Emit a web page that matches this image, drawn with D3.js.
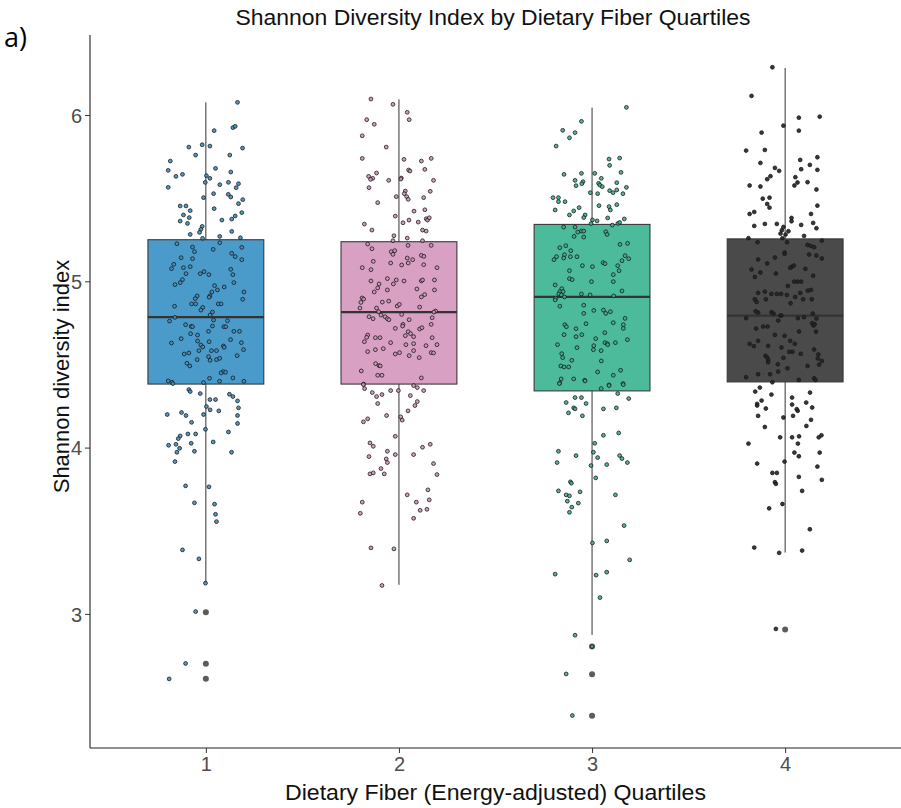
<!DOCTYPE html>
<html>
<head>
<meta charset="utf-8">
<script src="https://cdn.jsdelivr.net/npm/d3@7"></script>
<style>
  html, body { margin: 0; padding: 0; background: #fff; }
  svg { display: block; }
  text { font-family: Arial, "Liberation Sans", sans-serif; }
</style>
</head>
<body>
<svg id="chart" width="901" height="808"></svg>
<script>
// Fiber quartile categories and box colours
const categories = [1, 2, 3, 4];
const boxColors = ["#4a9bca", "#d8a0c3", "#4cbb9b", "#4a4a4a"];
const pointColors = ["#3f8fc0", "#cf93b9", "#3fae8e", "#222222"];

// Box-plot summaries per quartile
const whiskerLow = [3.185, 3.175, 2.874, 3.369];
const lowerQuartile = [4.382, 4.382, 4.341, 4.395];
const medians = [4.784, 4.815, 4.906, 4.794];
const upperQuartile = [5.250, 5.238, 5.342, 5.255];
const whiskerHigh = [6.076, 6.094, 6.044, 6.283];
const outliers = [[3.01, 2.70, 2.61], [], [2.804, 2.637, 2.387], [2.906]];

// Individual Shannon index values: [horizontal jitter (category units), value]
const quartile1 = [
  [0.164,6.076],[0.043,5.906],[0.140,5.924],[0.152,5.932],[-0.088,5.807],[-0.019,5.821],[0.021,5.813],[0.190,5.801],
  [-0.053,5.759],[0.124,5.759],[-0.184,5.723],[-0.195,5.667],[0.050,5.679],[0.129,5.657],[-0.121,5.643],[-0.155,5.631],
  [0.003,5.635],[0.021,5.619],[-0.003,5.595],[0.117,5.595],[0.169,5.587],[0.072,5.581],[0.157,5.563],[-0.195,5.565],
  [0.040,5.527],[0.116,5.523],[0.129,5.507],[-0.012,5.503],[0.191,5.491],[-0.133,5.453],[-0.103,5.453],[0.043,5.437],
  [-0.081,5.425],[0.169,5.467],[-0.116,5.399],[-0.086,5.383],[0.186,5.413],[0.152,5.393],[0.134,5.374],[0.083,5.368],
  [-0.133,5.362],[-0.095,5.348],[-0.019,5.330],[-0.026,5.312],[-0.033,5.294],[-0.081,5.282],[0.134,5.300],[-0.017,5.258],
  [0.072,5.270],[0.179,5.262],
  [-0.150,5.226],[0.072,5.232],[0.186,5.204],[-0.069,5.206],[-0.059,5.178],[0.038,5.192],[0.134,5.168],[0.152,5.148],
  [-0.128,5.142],[-0.069,5.136],[0.186,5.130],[-0.166,5.102],[-0.178,5.076],[-0.116,5.082],[-0.081,5.088],[0.129,5.072],
  [-0.103,5.046],[-0.029,5.046],[-0.009,5.058],[0.016,5.040],[0.140,5.040],[-0.121,5.010],[-0.133,4.992],[-0.160,4.980],
  [0.145,4.992],[0.197,4.936],[0.045,4.974],[0.095,4.966],[0.060,4.948],[0.031,4.936],[0.021,4.912],[0.017,4.904],
  [-0.045,4.912],[-0.055,4.896],[0.191,4.892],[-0.074,4.864],[-0.053,4.864],[0.064,4.864],[0.079,4.864],[-0.162,4.850],
  [-0.016,4.843],[-0.026,4.827],[0.034,4.815],[0.022,4.797],[0.040,4.767],[-0.160,4.783],[-0.188,4.761],[0.112,4.763],
  [-0.105,4.739],[-0.076,4.729],[-0.069,4.727],[0.093,4.727],[0.103,4.727],[0.034,4.731],[-0.079,4.685],[-0.128,4.655],
  [0.014,4.699],[0.145,4.699],[0.174,4.699],[-0.043,4.677],[-0.043,4.641],[0.128,4.649],[0.017,4.637],[-0.178,4.629],
  [0.184,4.631],[-0.026,4.617],[-0.016,4.605],[0.091,4.611],[0.095,4.603],[0.195,4.589],[-0.036,4.583],[0.029,4.583],
  [0.055,4.583],[-0.112,4.563],[-0.088,4.569],[0.162,4.553],[0.014,4.547],[-0.045,4.529],[0.022,4.525],[0.055,4.529],
  [0.072,4.537],[-0.098,4.507],[-0.083,4.491],[0.090,4.457],[0.079,4.449],[0.102,4.453],[0.019,4.417],[0.140,4.419],
  [-0.195,4.401],[-0.176,4.393],[-0.171,4.385],[-0.012,4.391],[0.071,4.399],[0.197,4.399],
  [-0.088,4.349],[-0.081,4.337],[-0.029,4.325],[0.122,4.321],[0.140,4.307],[0.164,4.281],[0.021,4.289],[0.050,4.289],
  [0.003,4.247],[0.022,4.227],[0.067,4.221],[0.169,4.239],[-0.200,4.199],[-0.126,4.211],[-0.103,4.193],[-0.012,4.199],
  [0.164,4.193],[-0.074,4.152],[0.164,4.145],[-0.002,4.110],[0.117,4.094],[-0.093,4.082],[-0.053,4.082],[-0.133,4.070],
  [-0.143,4.054],[0.038,4.034],[-0.076,4.026],[-0.193,4.014],[-0.155,4.020],[-0.136,3.996],[-0.150,3.972],[-0.059,3.978],
  [0.133,3.972],[-0.160,3.916],[-0.105,3.770],[0.016,3.764],[-0.059,3.668],[0.045,3.660],[0.050,3.599],[0.055,3.555],
  [-0.121,3.385],[-0.036,3.331],[-0.002,3.185],[-0.053,3.014],[-0.105,2.702],[-0.190,2.609]
];

const quartile2 = [
  [-0.145,6.096],[-0.031,6.064],[0.043,6.016],[0.053,5.972],[-0.167,5.972],[-0.128,5.944],[-0.190,5.875],[-0.066,5.807],
  [-0.190,5.739],[0.026,5.733],[0.116,5.723],[0.167,5.739],[0.050,5.669],[0.057,5.663],[0.134,5.673],[-0.116,5.651],
  [-0.157,5.631],[-0.136,5.619],[-0.147,5.613],[-0.053,5.607],[0.012,5.621],[0.010,5.615],[0.179,5.607],[-0.155,5.563],
  [0.033,5.543],[0.162,5.541],[0.028,5.527],[0.040,5.509],[0.048,5.493],[-0.014,5.509],[0.128,5.503],[-0.110,5.473],
  [0.134,5.430],[0.078,5.422],[-0.019,5.392],[0.141,5.376],[0.148,5.368],[0.157,5.382],[0.052,5.368],[0.021,5.352],
  [0.100,5.356],[-0.179,5.344],[-0.140,5.308],[0.122,5.308],[0.141,5.302],[-0.026,5.274],[0.043,5.260],[-0.031,5.244],
  [0.122,5.244],
  [-0.162,5.224],[0.047,5.216],[0.167,5.216],[-0.140,5.196],[-0.040,5.178],[-0.022,5.184],[-0.031,5.162],[0.116,5.156],
  [0.129,5.150],[0.043,5.140],[0.071,5.130],[-0.133,5.120],[-0.043,5.110],[0.014,5.098],[0.048,5.110],[0.128,5.100],
  [-0.190,5.082],[-0.145,5.070],[0.197,5.082],[-0.060,5.016],[-0.014,5.008],[-0.145,5.002],[0.026,5.002],[0.116,5.002],
  [0.122,5.008],[0.184,5.008],[-0.103,4.984],[-0.029,4.984],[-0.110,4.960],[-0.060,4.948],[0.184,4.948],[0.093,4.954],
  [-0.128,4.936],[0.133,4.920],[0.116,4.906],[-0.191,4.900],[-0.183,4.893],[-0.197,4.873],[-0.086,4.875],[-0.053,4.881],
  [-0.009,4.851],[0.002,4.861],[-0.202,4.839],[-0.116,4.839],[0.107,4.845],[-0.105,4.817],[0.190,4.821],[0.181,4.815],
  [-0.093,4.797],[-0.072,4.787],[-0.060,4.775],[-0.052,4.769],[0.014,4.801],[0.172,4.781],[-0.155,4.787],[-0.134,4.775],
  [0.053,4.769],[0.167,4.741],[0.021,4.741],[0.019,4.731],[-0.019,4.717],[0.107,4.713],[0.119,4.721],[0.048,4.697],
  [0.060,4.685],[-0.162,4.677],[-0.167,4.663],[-0.122,4.661],[-0.098,4.661],[0.033,4.673],[0.076,4.667],[0.172,4.661],
  [-0.179,4.637],[-0.043,4.631],[0.076,4.625],[0.036,4.619],[0.140,4.613],[0.197,4.619],[-0.162,4.577],[-0.122,4.589],
  [-0.081,4.595],[-0.019,4.563],[0.003,4.571],[0.076,4.583],[0.167,4.571],[0.179,4.569],[0.053,4.553],[0.105,4.541],
  [-0.121,4.505],[-0.103,4.493],[-0.097,4.491],[-0.195,4.461],[-0.110,4.435],[-0.088,4.435],[0.116,4.419],[-0.183,4.382],
  [-0.184,4.379],[-0.178,4.355],[0.076,4.373],[0.095,4.361],[0.128,4.343],[-0.138,4.331],[-0.088,4.319],[-0.043,4.343],
  [-0.003,4.343],[-0.116,4.307],[0.059,4.313],[0.095,4.277],[0.083,4.253],[-0.110,4.265],[0.047,4.221],[-0.064,4.193],
  [0.009,4.185],[0.017,4.165],[-0.162,4.173],[-0.184,4.155],[-0.019,4.068],[-0.150,4.028],[-0.133,4.008],[0.122,4.002],
  [0.162,4.020],[-0.060,3.978],[-0.019,3.958],[0.076,3.958],[-0.155,3.946],[-0.066,3.932],[-0.060,3.910],[0.179,3.904],
  [-0.093,3.874],[-0.150,3.842],[-0.133,3.848],[-0.076,3.842],[0.197,3.838],[0.150,3.746],[0.043,3.716],[0.157,3.686],
  [0.090,3.672],[-0.190,3.672],[0.110,3.623],[0.145,3.629],[-0.200,3.605],[0.076,3.575],[-0.145,3.397],[-0.026,3.391],
  [-0.088,3.171]
];

const quartile3 = [
  [0.178,6.046],[-0.055,5.962],[-0.152,5.908],[-0.088,5.894],[-0.117,5.863],[-0.186,5.813],[0.088,5.735],[0.143,5.741],
  [0.091,5.697],[-0.145,5.643],[-0.055,5.649],[0.014,5.649],[0.048,5.619],[0.150,5.655],[-0.088,5.607],[-0.047,5.599],
  [-0.053,5.587],[-0.083,5.575],[0.034,5.589],[0.040,5.579],[0.053,5.569],[0.128,5.593],[0.178,5.565],[0.091,5.545],
  [0.109,5.533],[0.128,5.549],[0.160,5.527],[-0.009,5.533],[0.029,5.527],[-0.202,5.503],[-0.174,5.503],[-0.174,5.479],
  [-0.140,5.479],[0.036,5.455],[0.088,5.449],[0.128,5.461],[0.095,5.429],[-0.191,5.429],[-0.067,5.443],[-0.095,5.423],
  [-0.117,5.399],[-0.036,5.399],[-0.043,5.383],[0.081,5.381],[0.167,5.375],[0.002,5.369],[0.026,5.363],[-0.005,5.347],
  [0.105,5.338],[0.134,5.348],[0.143,5.354],
  [-0.147,5.326],[-0.088,5.326],[-0.055,5.302],[-0.043,5.302],[-0.074,5.296],[0.071,5.298],[0.078,5.282],[-0.093,5.270],
  [-0.043,5.266],[0.145,5.222],[0.184,5.228],[-0.136,5.214],[-0.167,5.202],[-0.110,5.184],[-0.143,5.160],[-0.184,5.148],
  [-0.197,5.130],[-0.147,5.140],[-0.112,5.148],[-0.078,5.148],[0.171,5.154],[0.190,5.136],[0.155,5.124],[0.057,5.112],
  [0.067,5.106],[-0.050,5.094],[0.002,5.088],[0.133,5.094],[0.140,5.064],[-0.117,5.064],[0.110,5.040],[-0.117,5.016],
  [-0.103,5.010],[-0.003,4.998],[0.110,4.998],[-0.191,4.978],[-0.157,4.956],[-0.167,4.938],[-0.150,4.938],[-0.172,4.924],
  [-0.159,4.918],[-0.143,4.906],[-0.188,4.898],[-0.191,4.888],[-0.055,4.924],[-0.010,4.918],[0.155,4.942],[0.112,4.912],
  [-0.167,4.850],[-0.043,4.856],[-0.043,4.807],[0.009,4.825],[0.059,4.827],[0.071,4.807],[0.095,4.817],[0.171,4.777],
  [-0.031,4.745],[0.110,4.751],[0.162,4.739],[0.162,4.717],[-0.141,4.739],[-0.133,4.727],[-0.083,4.715],[-0.145,4.679],
  [-0.083,4.667],[-0.053,4.679],[0.066,4.691],[0.019,4.655],[0.183,4.649],[-0.179,4.619],[-0.078,4.601],[0.009,4.613],
  [0.007,4.589],[0.067,4.631],[0.079,4.625],[0.081,4.619],[0.121,4.631],[0.047,4.583],[-0.157,4.565],[-0.152,4.541],
  [-0.105,4.525],[0.048,4.521],[-0.162,4.491],[-0.145,4.485],[-0.121,4.485],[0.029,4.455],[0.148,4.465],[0.110,4.435],
  [-0.160,4.413],[-0.167,4.389],[-0.095,4.413],[-0.038,4.405],[0.160,4.385],[0.088,4.377],
  [-0.169,4.385],[-0.036,4.401],[0.047,4.355],[0.088,4.373],[0.162,4.379],[0.133,4.325],[0.190,4.295],[-0.088,4.301],
  [-0.055,4.301],[-0.134,4.271],[-0.031,4.265],[-0.095,4.239],[-0.088,4.233],[0.059,4.233],[0.126,4.239],[-0.122,4.209],
  [-0.050,4.191],[0.059,4.074],[0.138,4.088],[0.014,4.026],[-0.174,3.978],[0.007,3.972],[-0.083,3.952],[0.029,3.940],
  [0.143,3.952],[0.155,3.934],[-0.181,3.910],[-0.005,3.892],[0.076,3.898],[0.183,3.910],[0.019,3.818],[-0.112,3.794],
  [-0.107,3.786],[-0.174,3.740],[-0.134,3.716],[-0.117,3.710],[-0.062,3.734],[0.121,3.716],[-0.128,3.678],[-0.071,3.666],
  [-0.105,3.642],[-0.117,3.611],[0.166,3.531],[0.002,3.427],[0.076,3.439],[0.195,3.325],[-0.191,3.239],[0.021,3.233],
  [0.076,3.251],[0.041,3.098],[-0.088,2.872],[0.000,2.804],[-0.134,2.639],[-0.102,2.389]
];

const quartile4 = [
  [-0.066,6.287],[-0.174,6.115],[0.071,5.984],[0.179,5.990],[-0.009,5.936],[0.071,5.906],[-0.122,5.894],[-0.202,5.786],
  [-0.105,5.790],[-0.128,5.712],[0.078,5.730],[0.167,5.746],[0.128,5.700],[0.083,5.674],[0.167,5.670],[-0.053,5.682],
  [-0.031,5.664],[-0.076,5.632],[-0.093,5.614],[0.053,5.626],[0.064,5.594],[0.048,5.576],[0.116,5.596],[-0.184,5.576],
  [-0.128,5.570],[0.162,5.552],[-0.116,5.497],[-0.081,5.503],[-0.093,5.465],[-0.081,5.443],[0.167,5.455],[-0.184,5.405],
  [-0.160,5.417],[0.134,5.405],[0.033,5.381],[0.033,5.361],[-0.160,5.333],[-0.105,5.345],[-0.043,5.345],[0.083,5.339],
  [0.145,5.351],[0.162,5.319],[-0.009,5.327],[-0.017,5.307],[0.017,5.301],[-0.024,5.287],[0.002,5.281],[0.098,5.273],
  [-0.190,5.259],[-0.014,5.259],
  [-0.143,5.235],[0.010,5.235],[0.190,5.245],[0.116,5.219],[0.133,5.213],[0.150,5.205],[-0.003,5.173],[-0.003,5.165],
  [0.124,5.161],[0.162,5.155],[-0.053,5.143],[0.190,5.137],[-0.140,5.131],[-0.093,5.107],[0.034,5.087],[0.045,5.095],
  [0.026,5.081],[-0.174,5.071],[-0.128,5.053],[0.105,5.075],[-0.048,5.047],[0.145,5.034],[-0.157,5.026],[0.047,4.998],
  [0.064,4.998],[0.083,4.998],[0.014,4.972],[-0.140,4.930],[-0.105,4.938],[-0.071,4.924],[-0.043,4.924],[-0.021,4.924],
  [0.009,4.918],[0.078,4.930],[0.117,4.944],[0.134,4.948],[-0.157,4.892],[-0.148,4.876],[-0.100,4.892],[0.052,4.906],
  [0.093,4.892],[0.138,4.892],[0.028,4.868],[-0.153,4.820],[-0.140,4.812],[-0.071,4.814],[-0.060,4.806],[-0.024,4.794],
  [-0.019,4.794],[0.143,4.806],[-0.202,4.778],[-0.036,4.764],[0.066,4.778],[0.098,4.784],[0.162,4.776],[-0.114,4.728],
  [-0.091,4.728],[-0.150,4.716],[0.140,4.748],[0.147,4.734],[0.153,4.742],[0.072,4.698],[0.160,4.698],[-0.053,4.678],
  [-0.003,4.672],[0.026,4.642],[0.050,4.624],[-0.184,4.624],[-0.162,4.610],[-0.140,4.642],[-0.088,4.612],[-0.019,4.602],
  [0.021,4.576],[0.038,4.576],[0.081,4.564],[0.150,4.590],[0.172,4.560],[-0.102,4.552],[-0.093,4.542],[-0.088,4.527],
  [-0.088,4.513],[-0.009,4.540],[0.169,4.536],[0.190,4.521],[-0.038,4.501],[0.012,4.477],[0.116,4.491],[0.176,4.499],
  [-0.202,4.423],[-0.140,4.441],[-0.078,4.441],[-0.036,4.457],[0.150,4.417],[0.071,4.407],
  [0.157,4.407],[-0.066,4.393],[-0.131,4.361],[-0.155,4.337],[-0.071,4.319],[0.129,4.331],[0.036,4.301],[-0.122,4.283],
  [-0.145,4.263],[-0.145,4.253],[0.109,4.271],[0.036,4.259],[0.140,4.241],[-0.100,4.235],[0.060,4.231],[0.065,4.221],
  [-0.140,4.191],[-0.009,4.181],[0.041,4.191],[0.134,4.167],[-0.105,4.124],[0.110,4.130],[-0.026,4.062],[0.036,4.062],
  [0.072,4.068],[0.174,4.062],[0.188,4.074],[-0.190,4.024],[0.066,4.024],[0.048,3.970],[0.071,3.948],[0.179,3.970],
  [-0.145,3.904],[-0.003,3.916],[0.167,3.886],[-0.066,3.848],[-0.043,3.848],[0.071,3.824],[0.190,3.806],[-0.053,3.792],
  [-0.048,3.782],[0.088,3.740],[-0.014,3.661],[-0.083,3.635],[0.128,3.509],[-0.160,3.399],[-0.031,3.367],[0.088,3.381],
  [-0.048,2.910]
];

const pointsByGroup = [quartile1, quartile2, quartile3, quartile4];
const yTicks = [3, 4, 5, 6];

const svg = d3.select("#chart");
const plot = { left: 90, right: 901, top: 35, bottom: 748 };

// ggplot-style discrete axis: categories 1..4 with 0.6 units of padding each side
const x = d3.scaleLinear().domain([0.4, 4.6]).range([plot.left, plot.right]);
const y = d3.scaleLinear().domain([2.1937, 6.481]).range([plot.bottom, plot.top]);
const boxHalf = 0.3;

const boxes = categories.map((c, i) => ({
  cat: c, i,
  lo: whiskerLow[i], q1: lowerQuartile[i], med: medians[i], q3: upperQuartile[i], hi: whiskerHigh[i],
  out: outliers[i]
}));

const g = svg.append("g");

// whiskers
g.selectAll("line.whisker").data(boxes).join("line")
  .attr("class", "whisker")
  .attr("x1", d => x(d.cat)).attr("x2", d => x(d.cat))
  .attr("y1", d => y(d.lo)).attr("y2", d => y(d.hi))
  .attr("stroke", "#333").attr("stroke-width", 1);

// boxes
g.selectAll("rect.box").data(boxes).join("rect")
  .attr("class", "box")
  .attr("x", d => x(d.cat - boxHalf))
  .attr("width", d => x(d.cat + boxHalf) - x(d.cat - boxHalf))
  .attr("y", d => y(d.q3))
  .attr("height", d => y(d.q1) - y(d.q3))
  .attr("fill", d => boxColors[d.i])
  .attr("stroke", "#3a3a3a").attr("stroke-width", 1.1);

// medians
g.selectAll("line.median").data(boxes).join("line")
  .attr("class", "median")
  .attr("x1", d => x(d.cat - boxHalf)).attr("x2", d => x(d.cat + boxHalf))
  .attr("y1", d => y(d.med)).attr("y2", d => y(d.med))
  .attr("stroke", "#333").attr("stroke-width", 2.2);

// boxplot outliers
boxes.forEach(b => {
  g.selectAll(null).data(b.out).join("circle")
    .attr("cx", x(b.cat)).attr("cy", v => y(v)).attr("r", 3)
    .attr("fill", "#5c5c5c");
});

// jittered observations
pointsByGroup.forEach((pts, i) => {
  g.selectAll(null).data(pts).join("circle")
    .attr("cx", d => x(categories[i] + d[0]))
    .attr("cy", d => y(d[1]))
    .attr("r", 1.9)
    .attr("fill", pointColors[i])
    .attr("fill-opacity", 0.9)
    .attr("stroke", "#1a1a1a").attr("stroke-width", 0.8);
});

// axes
const yAxis = d3.axisLeft(y).tickValues(yTicks).tickSize(5).tickPadding(3).tickFormat(d3.format("d"));
const xAxis = d3.axisBottom(x).tickValues(categories).tickSize(5).tickPadding(4).tickFormat(d3.format("d"));

const ya = svg.append("g").attr("transform", `translate(${plot.left},0)`).call(yAxis);
ya.attr("font-family", null);
ya.select(".domain").attr("d", `M0,${plot.top}V${plot.bottom}`).attr("stroke", "#222").attr("stroke-width", 1.1);
ya.selectAll(".tick line").attr("stroke", "#333");
ya.selectAll(".tick text").attr("fill", "#4d4d4d").style("font-size", "20px").attr("dy", "0.36em");

const xa = svg.append("g").attr("transform", `translate(0,${plot.bottom})`).call(xAxis);
xa.attr("font-family", null);
xa.select(".domain").attr("d", `M${plot.left},0H${plot.right}`).attr("stroke", "#222").attr("stroke-width", 1.1);
xa.selectAll(".tick line").attr("stroke", "#333");
xa.selectAll(".tick text").attr("fill", "#4d4d4d").style("font-size", "20px");

// titles
svg.append("text")
  .attr("x", 493).attr("y", 25)
  .attr("text-anchor", "middle")
  .attr("textLength", 515).attr("lengthAdjust", "spacingAndGlyphs")
  .style("font-size", "22px").attr("fill", "#111")
  .text("Shannon Diversity Index by Dietary Fiber Quartiles");

svg.append("text")
  .attr("x", 495.5).attr("y", 800)
  .attr("text-anchor", "middle")
  .attr("textLength", 421).attr("lengthAdjust", "spacingAndGlyphs")
  .style("font-size", "22.5px").attr("fill", "#111")
  .text("Dietary Fiber (Energy-adjusted) Quartiles");

svg.append("text")
  .attr("transform", `translate(69,${(plot.top + plot.bottom) / 2 - 15}) rotate(-90)`)
  .attr("text-anchor", "middle")
  .style("font-size", "22px").attr("fill", "#111")
  .text("Shannon diversity index");

svg.append("text")
  .attr("x", 4).attr("y", 47)
  .style("font-family", "'Open Sans', 'DejaVu Sans', sans-serif")
  .style("font-size", "27px").attr("fill", "#000")
  .text("a)");
</script>
</body>
</html>
